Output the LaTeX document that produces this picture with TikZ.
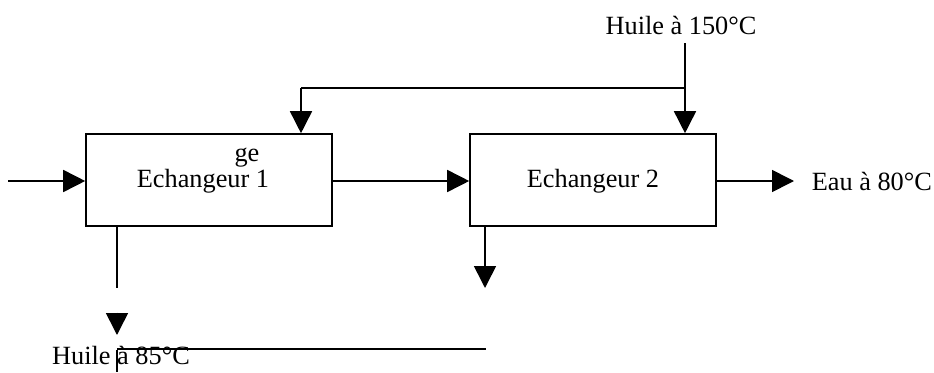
\documentclass[tikz,border=0pt]{standalone}
\usepackage{fontspec}
\setmainfont{Liberation Serif}
\usetikzlibrary{arrows.meta}
\begin{document}
\begin{tikzpicture}[x=1pt,y=-1pt,
  line width=1.6pt,
  every node/.style={font=\fontsize{26.3}{30}\selectfont, inner sep=0pt},
  boxx/.style={draw, rectangle, line width=1.6pt, minimum width=246pt, minimum height=92pt},
  arr/.style={-{Triangle[length=22pt,width=22pt]}},
  tiponly/.style={-{Triangle[length=22pt,width=22pt]}, shorten <=0pt}]
\useasboundingbox (0,0) rectangle (934,372);
% boxes
\node[boxx] (e1) at (209,180) {};
\node[boxx] (e2) at (593,180) {};
\node (t1) at (203,181) {Echangeur 1};
\node (ge) at (247,158) {ge};
\node (t2) at (593,181) {Echangeur 2};
% labels
\node (h150) at (681,25) {Huile à 150°C};
\node[anchor=west] (eau) at (811,181) {Eau à 80°C};
\node (h85) at (121,355) {Huile à 85°C};
% coordinates
\coordinate (inL) at (8,181);
\coordinate (top) at (685,43);
\coordinate (junc) at (685,88);
\coordinate (lcorner) at (301,88);
\coordinate (b1) at (117,226);
\coordinate (b1end) at (117,288);
\coordinate (a1s) at (117,312.5);
\coordinate (a1e) at (117,335);
\coordinate (v1s) at (117,350);
\coordinate (v1e) at (117,372);
\coordinate (hl1) at (117,349);
\coordinate (hl2) at (486,349);
\coordinate (b2) at (485,226);
\coordinate (b2end) at (485,288);
\coordinate (eauarr) at (794,181);
% connectors
\draw[arr] (inL) -- (e1.west |- inL);
\draw[arr] (e1.east |- inL) -- (e2.west |- inL);
\draw[arr] (e2.east |- inL) -- (eauarr);
\draw[arr] (top) -- (e2.north -| top);
\draw (junc) -- (lcorner);
\draw[arr] (lcorner) -- (e1.north -| lcorner);
\draw (b1) -- (b1end);
\draw[tiponly] (a1s) -- (a1e);
\draw (v1s) -- (v1e);
\draw (hl1) -- (hl2);
\draw[arr] (b2) -- (b2end);
\end{tikzpicture}
\end{document}
